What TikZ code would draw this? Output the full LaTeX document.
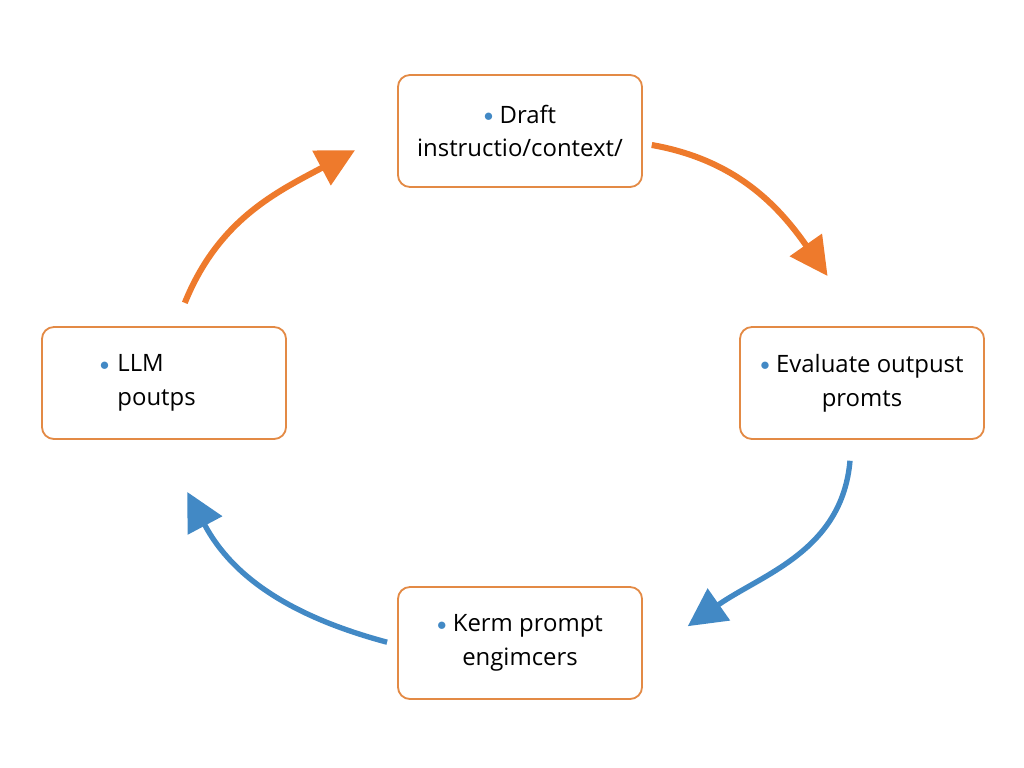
\documentclass[tikz,border=0pt]{standalone}
\usepackage{fontspec}
\setmainfont{Open Sans}
\usetikzlibrary{arrows.meta,positioning}
\definecolor{cycleorange}{HTML}{EE7A2C}
\definecolor{cycleblue}{HTML}{4289C5}
\definecolor{boxorange}{HTML}{E38A45}
\tikzstyle{block} = [
  rectangle, draw=boxorange, line width=1.3pt, rounded corners=0.3cm,
  align=center, minimum width=6.1cm, minimum height=2.8cm,
  font=\fontsize{17}{24}\selectfont
]
\tikzstyle{flow} = [line width=4.3pt, -{Triangle[length=0.95cm,width=0.95cm]}]
\newcommand{\dotb}{\textcolor{cycleblue}{\raisebox{0.12ex}{\scalebox{0.78}{$\bullet$}}}\ }

\begin{document}
\begin{tikzpicture}[x=0.025cm,y=-0.025cm]
    \useasboundingbox (0,0) rectangle (1024,768);

    \node[block] (draft) at (520,131) {\dotb Draft\\instructio/context/};
    \node[block] (evaluate) at (862,383) {\dotb Evaluate outpust\\promts};
    \node[block] (engineers) at (520,643) {\dotb Kerm prompt\\engimcers};
    \node[block, align=left, text width=3.2cm] (outputs) at (164,383)
      {\dotb LLM\\\phantom{\dotb}poutps};

    \draw[flow, cycleorange] ([xshift=0.52cm,yshift=0.58cm]outputs.north)
      to[out=68, in=208] ([xshift=-1.05cm,yshift=-0.48cm]draft.west);
    \draw[flow, cycleorange] ([xshift=0.22cm,yshift=-0.35cm]draft.east)
      to[out=-10, in=125] ([xshift=-0.86cm,yshift=1.25cm]evaluate.north);
    \draw[flow, cycleblue, line width=3.8pt] ([xshift=-0.3cm,yshift=-0.52cm]evaluate.south)
      to[out=-95, in=35] ([xshift=1.12cm,yshift=0.42cm]engineers.east);
    \draw[flow, cycleblue, line width=3.8pt] ([xshift=-0.25cm,yshift=0.02cm]engineers.west)
      to[out=165, in=-62] ([xshift=0.58cm,yshift=-1.3cm]outputs.south);
  \end{tikzpicture}
\end{document}
